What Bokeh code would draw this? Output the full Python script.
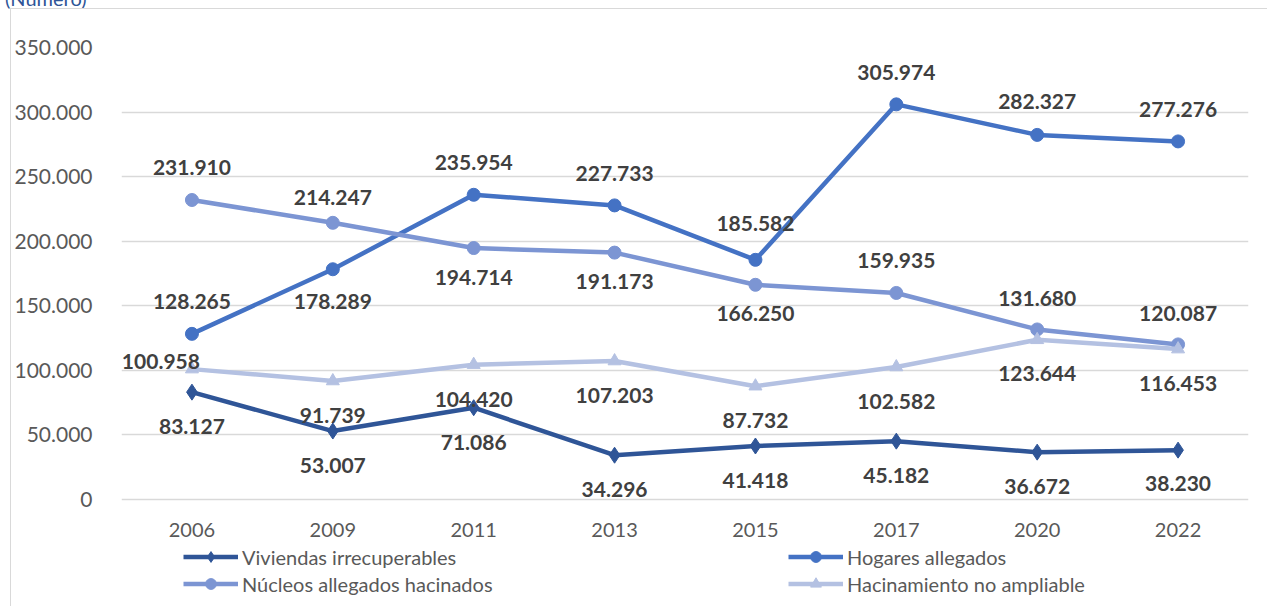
from bokeh.plotting import figure
from bokeh.models import (FactorRange, Range1d, FixedTicker, CustomJSTickFormatter,
                          Legend, LegendItem, ColumnDataSource, Div)
from bokeh.layouts import column
from bokeh.core.properties import value
from bokeh.embed import file_html
from bokeh.resources import INLINE

# ---------------- data ----------------
years = ["2006", "2009", "2011", "2013", "2015", "2017", "2020", "2022"]
viviendas = [83127, 53007, 71086, 34296, 41418, 45182, 36672, 38230]
hogares = [128265, 178289, 235954, 227733, 185582, 305974, 282327, 277276]
nucleos = [231910, 214247, 194714, 191173, 166250, 159935, 131680, 120087]
hacinamiento = [100958, 91739, 104420, 107203, 87732, 102582, 123644, 116453]
series_names = ["Viviendas irrecuperables", "Hogares allegados",
                "Núcleos allegados hacinados", "Hacinamiento no ampliable"]
y_ticks = [0, 50000, 100000, 150000, 200000, 250000, 300000, 350000]
title_text = "(Número)"

# ---------------- styling / label placement (screen px) ----------------
colors = ["#2F5597", "#4472C4", "#7C95D3", "#B4C1E2"]
markers = ["diamond", "circle", "circle", "triangle"]
msizes = [16, 13, 13, 13]
label_dx = [
    [0] * 8,
    [0] * 8,
    [0] * 8,
    [8, 0, 0, 0, 0, 0, 0, 0],
]
label_dy = [
    [34, 34, 35, 34, 34, 34, 34, 33],
    [-32, 32, -32, -32, -36, -32, -33, -32],
    [-33, -25, 29, 29, 29, -32, -31, -31],
    [-8, 34, 35, 34, 34, 34, 34, 34],
]
label_align = [
    ["center"] * 8,
    ["center"] * 8,
    ["center"] * 8,
    ["right"] + ["center"] * 7,
]

FONT = "Lato"
PLOT_PX = 452       # pixel height from 0 to the top tick
BELOW_PX = 106      # extra frame space under zero (for axis labels and legend)
y_top = y_ticks[-1]
y_bottom = -y_top * BELOW_PX / PLOT_PX

p = figure(x_range=FactorRange(*years), y_range=Range1d(y_bottom, y_top),
           width=1257, height=598, output_backend="svg", toolbar_location=None,
           min_border_left=104, min_border_right=20, min_border_top=38,
           min_border_bottom=2)
p.styles = {"border-left": "1px solid #d9d9d9", "border-top": "1px solid #d9d9d9",
            "margin-left": "10px", "margin-top": "-5px"}
p.outline_line_color = None
p.background_fill_color = "white"
p.border_fill_color = "white"

p.xgrid.grid_line_color = None
p.ygrid.grid_line_color = "#d9d9d9"
p.ygrid.grid_line_width = 1.5
p.ygrid.ticker = FixedTicker(ticks=y_ticks)

p.yaxis.ticker = FixedTicker(ticks=y_ticks)
p.yaxis.formatter = CustomJSTickFormatter(code="""
    return Math.round(tick).toString().replace(/\\B(?=(\\d{3})+(?!\\d))/g, '.');
""")
for ax in (p.xaxis, p.yaxis):
    ax.axis_line_color = None
    ax.major_tick_line_color = None
    ax.minor_tick_line_color = None
    ax.major_label_text_font = FONT
    ax.major_label_text_color = "#595959"
p.xaxis.fixed_location = 0
p.xaxis.major_label_text_font_size = "20px"
p.yaxis.major_label_text_font_size = "21px"
p.yaxis.major_label_standoff = 23
p.xaxis.major_label_standoff = 17

all_series = [viviendas, hogares, nucleos, hacinamiento]
renderers = []
for i, vals in enumerate(all_series):
    src = ColumnDataSource(dict(x=years, y=vals))
    ln = p.line("x", "y", source=src, line_color=colors[i], line_width=4.5)
    sc = p.scatter("x", "y", source=src, marker=markers[i], size=msizes[i],
                   fill_color=colors[i], line_color=colors[i])
    renderers.append((ln, sc))

for i, vals in enumerate(all_series):
    txt = [f"{v:,}".replace(",", ".") for v in vals]
    src = ColumnDataSource(dict(x=years, y=vals, t=txt, dx=label_dx[i],
                                dy=label_dy[i], al=label_align[i]))
    p.text("x", "y", text="t", source=src, x_offset="dx", y_offset="dy",
           text_align="al", text_baseline="middle",
           text_font=value(FONT), text_font_style="bold",
           text_font_size="21px", text_color="#404040")

def make_legend(idx, loc):
    items = [LegendItem(label=series_names[k], renderers=list(renderers[k])) for k in idx]
    lg = Legend(items=items, location=loc, orientation="vertical",
                glyph_width=55, glyph_height=27, label_height=27,
                label_standoff=4, spacing=0, padding=0, margin=0,
                label_text_font=FONT, label_text_font_size="20px",
                label_text_color="#595959", border_line_color=None,
                background_fill_alpha=0)
    p.add_layout(lg, "center")

make_legend([0, 2], (62, 8))
make_legend([1, 3], (667, 8))

title = Div(text=title_text, width=300, height=20,
            styles={"margin-top": "-12px", "color": "#2F5597", "font-family": "Lato",
                    "font-size": "20px", "line-height": "20px"})

layout = column(title, p, spacing=0)
open("out.html", "w").write(file_html(layout, INLINE))
